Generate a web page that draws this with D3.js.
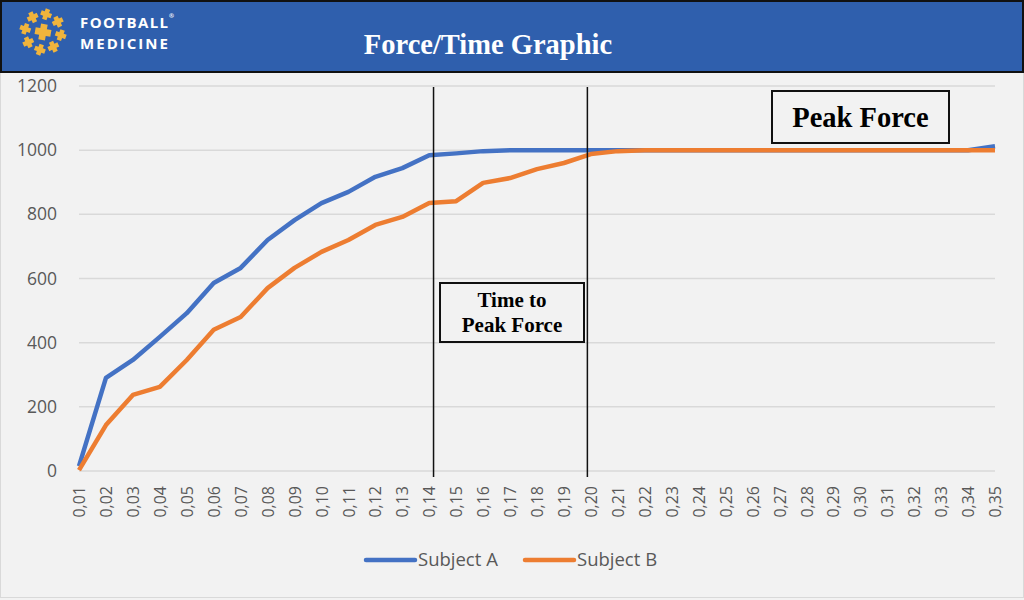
<!DOCTYPE html>
<html>
<head>
<meta charset="utf-8">
<script src="https://cdn.jsdelivr.net/npm/d3@7"></script>
<style>
  body { margin: 0; background: #f2f2f2; }
  svg { display: block; }
</style>
</head>
<body>
<div id="chart"></div>
<script>
// chart data
var times = [0.01, 0.02, 0.03, 0.04, 0.05, 0.06, 0.07, 0.08, 0.09, 0.10,
             0.11, 0.12, 0.13, 0.14, 0.15, 0.16, 0.17, 0.18, 0.19, 0.20,
             0.21, 0.22, 0.23, 0.24, 0.25, 0.26, 0.27, 0.28, 0.29, 0.30,
             0.31, 0.32, 0.33, 0.34, 0.35];
var subjectA = [15, 290, 346, 418, 492, 586, 633, 720, 782, 835,
                870, 917, 944, 984, 990, 997, 1000, 1000, 1000, 1000,
                1000, 1000, 1000, 1000, 1000, 1000, 1000, 1000, 1000, 1000,
                1000, 1000, 1000, 1000, 1012];
var subjectB = [3, 143, 237, 262, 346, 440, 480, 570, 633, 683,
                720, 767, 792, 835, 841, 898, 913, 941, 960, 988,
                997, 1000, 1000, 1000, 1000, 1000, 1000, 1000, 1000, 1000,
                1000, 1000, 1000, 1000, 1000];
var yTicks = [0, 200, 400, 600, 800, 1000, 1200];
var markerTimes = [0.1416, 0.1987];
var seriesNames = ["Subject A", "Subject B"];
var seriesColors = ["#4472c4", "#ed7d31"];

var svgWidth = 1024;
var svgHeight = 600;

var margin = { top: 86, right: 29, bottom: 129, left: 79 };
var width = svgWidth - margin.left - margin.right;
var height = svgHeight - margin.top - margin.bottom;

var svg = d3.select("#chart")
  .append("svg")
  .attr("width", svgWidth)
  .attr("height", svgHeight);

svg.append("rect")
  .attr("x", 0.5).attr("y", 0.5)
  .attr("width", svgWidth - 1).attr("height", svgHeight - 3)
  .attr("fill", "#f2f2f2")
  .attr("stroke", "#d9d9d9");

// header band
svg.append("rect")
  .attr("x", 1).attr("y", 1)
  .attr("width", svgWidth - 2).attr("height", 71)
  .attr("fill", "#2f5fad")
  .attr("stroke", "#111")
  .attr("stroke-width", 2);

svg.append("text")
  .attr("x", 488).attr("y", 54)
  .attr("text-anchor", "middle")
  .attr("fill", "#fff")
  .style("font-family", "'Liberation Serif', 'Times New Roman', serif")
  .style("font-weight", "bold")
  .style("font-size", "28.5px")
  .text("Force/Time Graphic");

// logo: ring of crosses
var logo = svg.append("g").attr("transform", "translate(43,32)");
function cross(g, x, y, s, rot) {
  var a = s * 0.42;
  g.append("path")
    .attr("transform", `translate(${x},${y}) rotate(${rot})`)
    .attr("d", `M${-a},${-s}H${a}V${-a}H${s}V${a}H${a}V${s}H${-a}V${a}H${-s}V${-a}H${-a}Z`)
    .attr("fill", "#f0b43c");
}
cross(logo, 0, 0, 8, 10);
d3.range(8).forEach(function(i) {
  var ang = (i * 45 - 80) * Math.PI / 180;
  cross(logo, 18 * Math.cos(ang), 18 * Math.sin(ang), 5.5, i * 45 + 20);
});

// logo wordmark
var logoText = svg.append("g")
  .attr("fill", "#fff")
  .style("font-family", "'Open Sans', sans-serif")
  .style("font-weight", "bold")
  .style("font-size", "15px");
logoText.append("text").attr("x", 80).attr("y", 28).attr("textLength", 88).text("FOOTBALL");
logoText.append("text").attr("x", 80).attr("y", 48.5).attr("textLength", 88).text("MEDICINE");
logoText.append("text").attr("x", 169).attr("y", 18).style("font-size", "6px").text("®");

var chartGroup = svg.append("g")
  .attr("transform", `translate(${margin.left},${margin.top})`);

var xScale = d3.scaleLinear()
  .domain([times[0], times[times.length - 1]])
  .range([0, width]);

var yScale = d3.scaleLinear()
  .domain([0, 1200])
  .range([height, 0]);

// gridlines
chartGroup.selectAll(".grid")
  .data(yTicks)
  .enter()
  .append("line")
  .attr("x1", 0).attr("x2", width)
  .attr("y1", d => yScale(d)).attr("y2", d => yScale(d))
  .attr("stroke", "#d9d9d9")
  .attr("stroke-width", 1.5);

// y axis
var leftAxis = d3.axisLeft(yScale)
  .tickValues(yTicks)
  .tickSize(0)
  .tickPadding(22)
  .tickFormat(d3.format("d"));
var yAxis = chartGroup.append("g").call(leftAxis);
yAxis.select(".domain").remove();
yAxis.selectAll("text")
  .attr("fill", "#595959")
  .style("font-family", "'Open Sans', sans-serif")
  .style("font-size", "17.5px");

// x axis
var bottomAxis = d3.axisBottom(xScale)
  .tickValues(times)
  .tickSize(0)
  .tickFormat(d => d3.format(".2f")(d).replace(".", ","));
var xAxis = chartGroup.append("g")
  .attr("transform", `translate(0, ${height})`)
  .call(bottomAxis);
xAxis.select(".domain").remove();
xAxis.selectAll("text")
  .attr("transform", "rotate(-90)")
  .attr("text-anchor", "end")
  .attr("x", -15)
  .attr("y", 0)
  .attr("dy", "0.35em")
  .attr("fill", "#595959")
  .style("font-family", "'Open Sans', sans-serif")
  .style("font-size", "16px");

// series lines
var line = d3.line()
  .x((d, i) => xScale(times[i]))
  .y(d => yScale(d));

[subjectA, subjectB].forEach(function(values, k) {
  chartGroup.append("path")
    .datum(values)
    .attr("d", line)
    .attr("fill", "none")
    .attr("stroke", seriesColors[k])
    .attr("stroke-width", 4.5)
    .attr("stroke-linejoin", "round");
});

// marker lines
chartGroup.selectAll(".marker")
  .data(markerTimes)
  .enter()
  .append("line")
  .attr("x1", d => xScale(d)).attr("x2", d => xScale(d))
  .attr("y1", 1).attr("y2", height + 6)
  .attr("stroke", "#111")
  .attr("stroke-width", 1.5);

// annotation boxes
function box(x, y, w, h, lines, size, lh) {
  var g = svg.append("g");
  g.append("rect")
    .attr("x", x).attr("y", y).attr("width", w).attr("height", h)
    .attr("fill", "#f2f2f2")
    .attr("stroke", "#111")
    .attr("stroke-width", 2);
  var t = g.append("text")
    .attr("text-anchor", "middle")
    .attr("fill", "#000")
    .style("font-family", "'Liberation Serif', 'Times New Roman', serif")
    .style("font-weight", "bold")
    .style("font-size", size + "px");
  var y0 = y + h / 2 - (lines.length - 1) * lh / 2;
  lines.forEach(function(s, i) {
    t.append("tspan")
      .attr("x", x + w / 2)
      .attr("y", y0 + i * lh)
      .attr("dy", "0.35em")
      .text(s);
  });
}
box(440, 283, 144, 59, ["Time to", "Peak Force"], 21, 25);
box(772, 91, 177, 52, ["Peak Force"], 28.5, 0);

// legend
var legend = svg.append("g")
  .style("font-family", "'Open Sans', sans-serif")
  .style("font-size", "18.5px");
var legendX = [366, 525];
seriesNames.forEach(function(name, k) {
  legend.append("line")
    .attr("x1", legendX[k]).attr("x2", legendX[k] + 49)
    .attr("y1", 560).attr("y2", 560)
    .attr("stroke", seriesColors[k])
    .attr("stroke-width", 4.5)
    .attr("stroke-linecap", "round");
  legend.append("text")
    .attr("x", legendX[k] + 52)
    .attr("y", 560)
    .attr("dy", "0.35em")
    .attr("fill", "#595959")
    .text(name);
});
</script>
</body>
</html>
